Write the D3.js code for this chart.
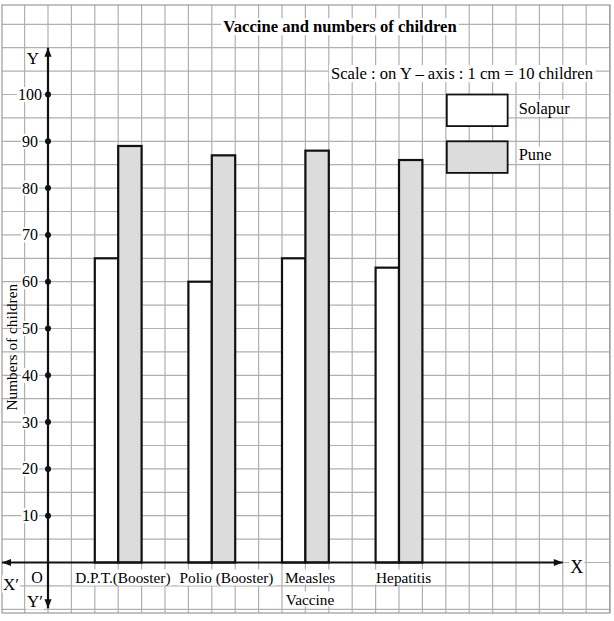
<!DOCTYPE html>
<html>
<head>
<meta charset="utf-8">
<script src="https://cdn.jsdelivr.net/npm/d3@7"></script>
<style>
  html, body { margin: 0; padding: 0; background: #fff; }
  svg text { font-family: "Liberation Serif", "Times New Roman", serif; fill: #000; }
</style>
</head>
<body>
<div class="chartBox"><svg></svg></div>
<script>
"use strict";

// data
const categories = ['D.P.T.(Booster)', 'Polio (Booster)', 'Measles Vaccine', 'Hepatitis'];
const catLines = [['D.P.T.(Booster)'], ['Polio (Booster)'], ['Measles', 'Vaccine'], ['Hepatitis']];
const seriesNames = ['Solapur', 'Pune'];
const solapur = [65, 60, 65, 63];
const pune = [89, 87, 88, 86];
const yTicks = [10, 20, 30, 40, 50, 60, 70, 80, 90, 100];

const W = 614;
const H = 621;
const CELL = 23.4;          // one grid square
const X0 = 48;              // origin O
const Y0 = 562.5;
const FRAME = {left: 2, top: 5, right: 610, bottom: 613};
const seriesFill = {Solapur: '#ffffff', Pune: '#dcdcdc'};

const svg = d3.select('.chartBox').select('svg')
    .attr('width', W)
    .attr('height', H);

const groupGrid = svg.append('g');
const groupBars = svg.append('g');
const groupAxis = svg.append('g');
const groupText = svg.append('g');

const y = d3.scaleLinear().domain([0, 100]).range([Y0, Y0 - 20 * CELL]);
const xCell = d3.scaleLinear().domain([0, 1]).range([X0, X0 + CELL]);
const x = d3.scaleBand()
    .domain(categories)
    .range([X0, xCell(18)])
    .paddingInner(0.5)
    .paddingOuter(0.5);
const xs = d3.scaleBand().domain(seriesNames).range([0, x.bandwidth()]);

// graph paper
const vLines = d3.range(-2, 25).map(k => xCell(k)).filter(v => v >= FRAME.left - 0.5 && v <= FRAME.right + 0.5);
const hLines = d3.range(-10, 120, 5).map(v => y(v)).filter(v => v >= FRAME.top && v <= FRAME.bottom);

groupGrid.selectAll('line.v')
    .data(vLines)
    .join('line')
    .attr('class', 'v')
    .attr('x1', d => d).attr('x2', d => d)
    .attr('y1', FRAME.top).attr('y2', FRAME.bottom)
    .attr('stroke', '#b0b0b0')
    .attr('stroke-width', 1.2);

groupGrid.selectAll('line.h')
    .data(hLines)
    .join('line')
    .attr('class', 'h')
    .attr('x1', FRAME.left).attr('x2', FRAME.right)
    .attr('y1', d => d).attr('y2', d => d)
    .attr('stroke', '#b0b0b0')
    .attr('stroke-width', 1.2);

groupGrid.append('rect')
    .attr('x', FRAME.left).attr('y', FRAME.top)
    .attr('width', FRAME.right - FRAME.left)
    .attr('height', FRAME.bottom - FRAME.top)
    .attr('fill', 'none')
    .attr('stroke', '#9a9a9a')
    .attr('stroke-width', 1.2);

// bars
const barData = [];
categories.forEach((c, i) => {
  barData.push({cat: c, series: 'Solapur', value: solapur[i]});
  barData.push({cat: c, series: 'Pune', value: pune[i]});
});

groupBars.selectAll('rect')
    .data(barData)
    .join('rect')
    .attr('x', d => x(d.cat) + xs(d.series))
    .attr('y', d => y(d.value))
    .attr('width', xs.bandwidth())
    .attr('height', d => y(0) - y(d.value))
    .attr('fill', d => seriesFill[d.series])
    .attr('stroke', '#111')
    .attr('stroke-width', 2.2);

// white patch behind a text so the grid stops at it
function knockOut(sel, pad){
  sel.each(function(){
    const b = this.getBBox();
    d3.select(this.parentNode).insert('rect', () => this)
      .attr('x', b.x - pad).attr('y', b.y + 1)
      .attr('width', b.width + 2 * pad).attr('height', b.height - 2)
      .attr('fill', '#fff');
  });
}

// axes with arrow heads
function arrow(g, x1, y1, x2, y2){
  g.append('line')
    .attr('x1', x1).attr('y1', y1).attr('x2', x2).attr('y2', y2)
    .attr('stroke', '#111').attr('stroke-width', 2.2);
  const a = Math.atan2(y2 - y1, x2 - x1);
  const len = 9, half = 3.6;
  const p = [
    [x2, y2],
    [x2 - len * Math.cos(a) + half * Math.sin(a), y2 - len * Math.sin(a) - half * Math.cos(a)],
    [x2 - len * Math.cos(a) - half * Math.sin(a), y2 - len * Math.sin(a) + half * Math.cos(a)]
  ];
  g.append('path')
    .attr('d', 'M' + p.map(q => q.join(',')).join('L') + 'Z')
    .attr('fill', '#111');
}

arrow(groupAxis, X0, Y0, FRAME.left, Y0);
arrow(groupAxis, X0, Y0, xCell(22), Y0);
arrow(groupAxis, X0, Y0, X0, y(110));
arrow(groupAxis, X0, Y0, X0, Y0 + 2 * CELL - 1);

groupAxis.selectAll('circle')
    .data(yTicks)
    .join('circle')
    .attr('cx', X0)
    .attr('cy', d => y(d))
    .attr('r', 3)
    .attr('fill', '#111');

// tick labels
const tickLab = groupText.append('g').selectAll('text')
    .data(yTicks)
    .join('text')
    .attr('x', X0 - 18)
    .attr('y', d => y(d) + 5.5)
    .attr('text-anchor', 'middle')
    .style('font-size', '16px')
    .text(d => d);
knockOut(tickLab, 1);

// axis letters
const letters = [
  {t: 'Y', x: X0 - 15, y: y(110) + 16, s: 17},
  {t: 'X', x: xCell(22) + 14, y: Y0 + 10, s: 18},
  {t: 'O', x: X0 - 11, y: Y0 + 20, s: 16},
  {t: 'X\u2032', x: FRAME.left + 9, y: Y0 + 27, s: 17},
  {t: 'Y\u2032', x: X0 - 13, y: Y0 + 44, s: 17}
];
const letterText = groupText.append('g').selectAll('text')
    .data(letters)
    .join('text')
    .attr('x', d => d.x)
    .attr('y', d => d.y)
    .attr('text-anchor', 'middle')
    .style('font-size', d => d.s + 'px')
    .text(d => d.t);
knockOut(letterText, 1);

// category labels, centred a little right of their pair of bars, pushed apart if they touch
const catG = groupText.append('g');
const catText = catG.selectAll('text')
    .data(categories)
    .join('text')
    .attr('y', Y0 + 20)
    .attr('text-anchor', 'middle')
    .style('font-size', '15.3px');
catText.each(function(d, i){
  const t = d3.select(this);
  catLines[i].forEach((ln, j) => {
    t.append('tspan').attr('x', 0).attr('dy', j === 0 ? 0 : 22).text(ln);
  });
});
let prevRight = -Infinity;
catText.each(function(d){
  const w = this.getBBox().width;
  let cx = x(d) + x.bandwidth() / 2 + 0.2 * CELL;
  if (cx - w / 2 < prevRight + 9) cx = prevRight + 9 + w / 2;
  d3.select(this).attr('x', cx);
  d3.select(this).selectAll('tspan').attr('x', cx);
  prevRight = cx + w / 2;
});
catText.each(function(){
  const t = d3.select(this);
  t.selectAll('tspan').each(function(){
    const b = this.getBBox();
    catG.insert('rect', () => t.node())
      .attr('x', b.x - 2).attr('y', b.y + 1)
      .attr('width', b.width + 4).attr('height', b.height - 2)
      .attr('fill', '#fff');
  });
});

// y axis title
const yTitle = groupText.append('text')
    .attr('transform', `translate(17,${y(46)}) rotate(-90)`)
    .attr('text-anchor', 'middle')
    .style('font-size', '15.3px')
    .text('Numbers of children');
knockOut(yTitle, 1);

// title and scale note
const title = groupText.append('text')
    .attr('x', 340)
    .attr('y', y(115) + 8)
    .attr('text-anchor', 'middle')
    .style('font-size', '16.6px')
    .style('font-weight', 'bold')
    .text('Vaccine and numbers of children');
knockOut(title, 2);

const scaleNote = groupText.append('text')
    .attr('x', 593)
    .attr('y', y(105) + 8)
    .attr('text-anchor', 'end')
    .style('font-size', '16.6px')
    .text('Scale : on Y \u2013 axis : 1 cm = 10 children');
knockOut(scaleNote, 2);

// legend
const legend = groupText.append('g')
    .attr('transform', `translate(${xCell(17) + 1},${y(100)})`);
const legItem = legend.selectAll('g')
    .data(seriesNames)
    .join('g')
    .attr('transform', (d, i) => `translate(0,${i * 2 * CELL})`);
legItem.append('rect')
    .attr('width', 2.6 * CELL)
    .attr('height', 1.35 * CELL)
    .attr('fill', d => seriesFill[d])
    .attr('stroke', '#111')
    .attr('stroke-width', 1.8);
const legText = legItem.append('text')
    .attr('x', 2.6 * CELL + 11)
    .attr('y', 19)
    .style('font-size', '16.4px')
    .text(d => d);
knockOut(legText, 1);
</script>
</body>
</html>
